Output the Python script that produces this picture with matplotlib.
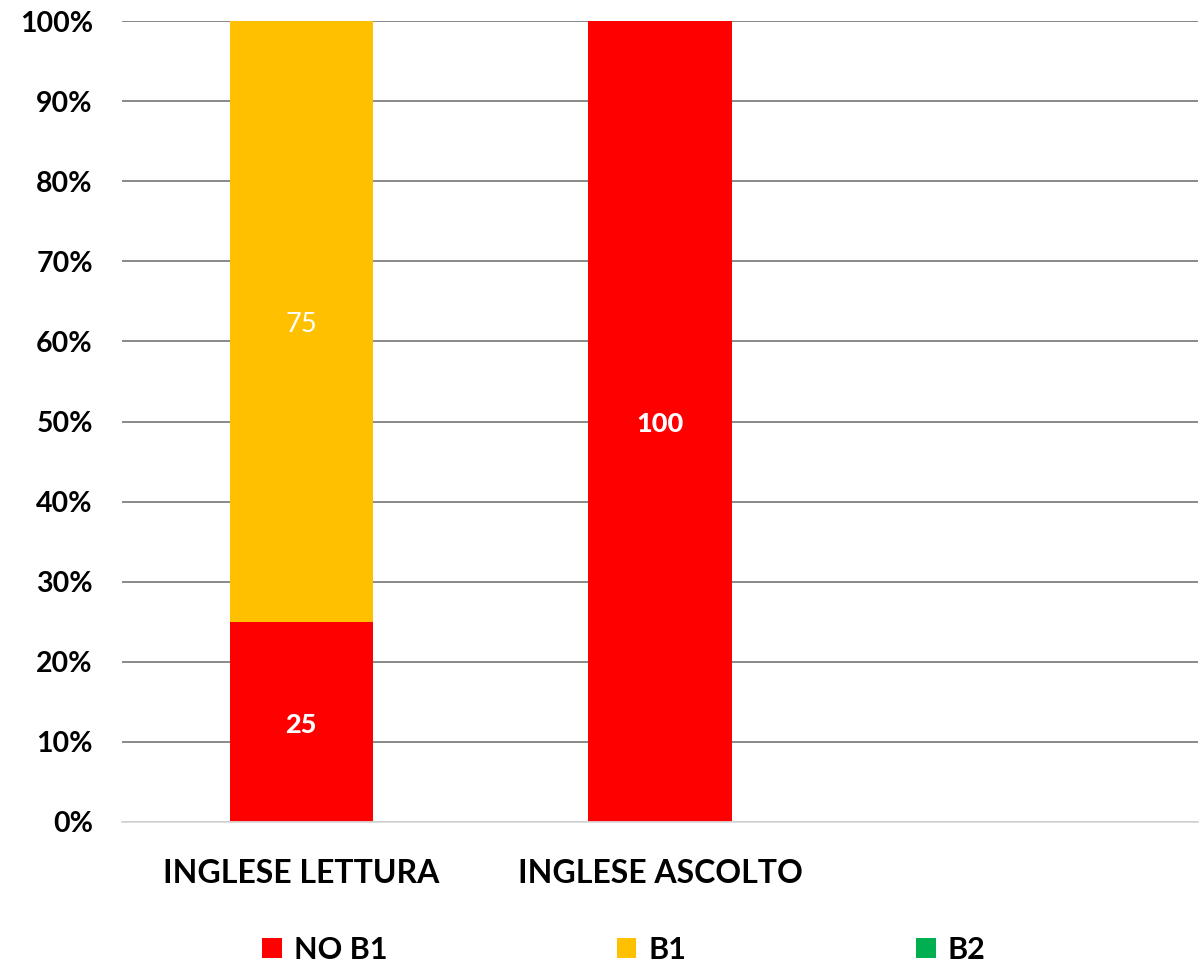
import numpy as np
import matplotlib.pyplot as plt
from matplotlib.ticker import PercentFormatter

plt.rcParams['font.family'] = ['Lato', 'DejaVu Sans']

categories = ["INGLESE LETTURA", "INGLESE ASCOLTO", ""]
no_b1 = [25, 100, 0]
b1 = [75, 0, 0]
b2 = [0, 0, 0]

x = np.arange(len(categories))
width = 0.4

fig = plt.figure(figsize=(12.04, 9.65), dpi=100)
ax = fig.add_axes([0.1013, 0.1482, 0.8937, 0.83])

bars_no = ax.bar(x, no_b1, width, color="#ff0000", label="NO B1", zorder=3)
bars_b1 = ax.bar(x, b1, width, bottom=no_b1, color="#ffc000", label="B1", zorder=3)
bars_b2 = ax.bar(x, b2, width, bottom=np.add(no_b1, b1), color="#00b050", label="B2", zorder=3)

# data labels
for xi, v in zip(x, no_b1):
    if v > 0:
        ax.annotate(str(v), (xi, v / 2), xytext=(0, -2), textcoords="offset points",
                    ha="center", va="center", color="white",
                    fontsize=19.5, fontweight="black", zorder=4)
for xi, base, v in zip(x, no_b1, b1):
    if v > 0:
        ax.annotate(str(v), (xi, base + v / 2), xytext=(0, -2), textcoords="offset points",
                    ha="center", va="center", color="white",
                    fontsize=19.5, fontweight="normal", zorder=4)

ax.set_xlim(-0.5, 2.5)
ax.set_ylim(0, 100)
ax.set_yticks(np.arange(0, 101, 10))
ax.yaxis.set_major_formatter(PercentFormatter(decimals=0))
ax.set_xticks(x[:2])
ax.set_xticklabels(categories[:2])

ax.grid(axis="y", color="#808080", linewidth=1.3, zorder=0)
for s in ["top", "right", "left"]:
    ax.spines[s].set_visible(False)
ax.spines["bottom"].set_color("#d9d9d9")
ax.spines["bottom"].set_linewidth(1.3)
ax.spines["bottom"].set_zorder(5)
ax.tick_params(axis="both", length=0)
ax.tick_params(axis="y", pad=21, labelsize=20.5)
ax.tick_params(axis="x", pad=27, labelsize=23)
for lbl in ax.get_xticklabels() + ax.get_yticklabels():
    lbl.set_fontweight("bold")

leg = fig.legend(handles=[bars_no, bars_b1, bars_b2], loc="center", ncol=3,
                 bbox_to_anchor=(0.518, 0.016), frameon=False,
                 prop={"weight": "bold", "size": 22}, columnspacing=7.5,
                 handlelength=0.65, handleheight=0.62, handletextpad=0.4,
                 borderpad=0)

fig.savefig("out.png", dpi=100)
